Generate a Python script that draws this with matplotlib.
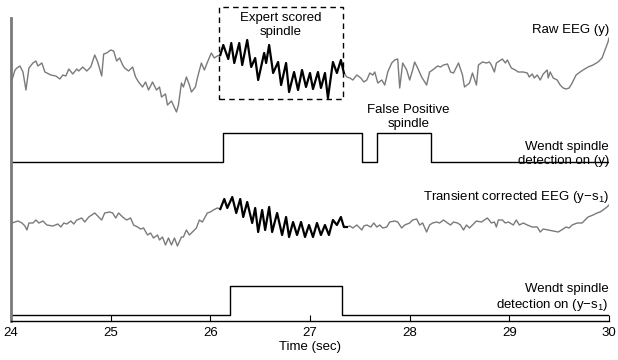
import matplotlib
matplotlib.use("Agg")
import matplotlib.pyplot as plt
from matplotlib.patches import Rectangle

plt.rcParams['font.family'] = ['Liberation Sans', 'DejaVu Sans']
plt.rcParams['mathtext.fontset'] = 'custom'
plt.rcParams['mathtext.rm'] = 'Liberation Sans'
plt.rcParams['mathtext.it'] = 'Liberation Sans'

# ---------------- data ----------------
raw_pre_t = [24.01, 24.04, 24.06, 24.09, 24.12, 24.15, 24.18, 24.22, 24.25, 24.27, 24.31, 24.34, 24.40,
             24.45, 24.49, 24.52, 24.55, 24.58, 24.62, 24.66, 24.68, 24.72, 24.76, 24.80, 24.84, 24.87,
             24.91, 24.93, 24.96, 25.00, 25.03, 25.06, 25.09, 25.12, 25.14, 25.18, 25.22, 25.25, 25.28,
             25.32, 25.35, 25.38, 25.42, 25.46, 25.49, 25.51, 25.55, 25.57, 25.61, 25.66, 25.68, 25.71,
             25.73, 25.76, 25.79, 25.81, 25.85, 25.87, 25.91, 25.94, 25.98, 26.01, 26.04, 26.07, 26.10]
raw_pre_v = [-5, 5, 7, 9, 3, -15, 7, 12, 14, 9, 12, 3, 0,
             -1, -4, 0, -1, 6, 1, 6, 4, 8, 4, 8, 20, 13,
             -1, 21, 22, 25, 24, 14, 17, 10, 7, 4, 8, -2, -7,
             -12, -7, -15, -7, -15, -12, -22, -19, -30, -26, -37, -30, -8,
             -12, -2, -10, -17, -12, -3, 12, 5, 15, 22, 17, 19, 20]

raw_sp_t = [26.10, 26.13, 26.18, 26.21, 26.24, 26.29, 26.32, 26.37, 26.41, 26.45, 26.48, 26.54, 26.56,
            26.59, 26.63, 26.68, 26.71, 26.76, 26.79, 26.84, 26.88, 26.92, 26.96, 27.00, 27.03, 27.08,
            27.11, 27.15, 27.18, 27.23, 27.27, 27.31, 27.34]
raw_sp_v = [20, 30, 16, 32, 12, 32, 10, 35, 8, 17, -5, 22, 12,
            30, 2, 13, -10, 12, -17, 3, -15, 5, -12, 2, -14, 3,
            -13, 2, -23, 13, 2, 15, 2]

raw_post_t = [27.34, 27.37, 27.40, 27.43, 27.47, 27.51, 27.54, 27.57, 27.60, 27.63, 27.65, 27.68, 27.72,
              27.75, 27.78, 27.82, 27.85, 27.88, 27.90, 27.93, 27.97, 28.00, 28.03, 28.05, 28.08, 28.12,
              28.17, 28.20, 28.23, 28.28, 28.31, 28.34, 28.38, 28.41, 28.44, 28.49, 28.53, 28.55, 28.60,
              28.63, 28.67, 28.69, 28.73, 28.77, 28.80, 28.82, 28.85, 28.87, 28.90, 28.93, 28.96, 28.98,
              29.02, 29.06, 29.09, 29.14, 29.18, 29.20, 29.23, 29.25, 29.28, 29.31, 29.34, 29.38, 29.39,
              29.41, 29.44, 29.48, 29.51, 29.54, 29.57, 29.60, 29.63, 29.67, 29.71, 29.74, 29.79, 29.84,
              29.89, 29.93, 29.96, 29.99, 30.00]
raw_post_v = [2, -2, -3, -5, 0, -3, -7, -5, 2, 0, 3, -8, -5,
              -10, 3, 12, 15, 16, -13, 12, 5, -5, 5, 13, 7, -2,
              -10, 3, 5, 9, 8, 10, 11, 3, 2, 12, 0, -12, -8,
              2, -10, 10, 13, 12, 13, 10, 3, 12, 14, 16, 12, 15,
              7, 5, 3, 3, 2, -2, 1, -3, 0, -5, 1, 5, -3,
              3, -3, -5, -10, -13, -14, -13, -8, 0, 3, 5, 8, 10,
              13, 17, 25, 33, 37]

cor_pre_t = [24.01, 24.04, 24.07, 24.11, 24.14, 24.16, 24.18, 24.22, 24.25, 24.28, 24.32, 24.36, 24.42,
             24.47, 24.50, 24.53, 24.56, 24.60, 24.63, 24.66, 24.71, 24.74, 24.78, 24.84, 24.87, 24.91,
             24.94, 24.99, 25.02, 25.05, 25.08, 25.12, 25.16, 25.20, 25.23, 25.27, 25.30, 25.33, 25.37,
             25.40, 25.43, 25.47, 25.49, 25.52, 25.55, 25.58, 25.61, 25.64, 25.67, 25.71, 25.73, 25.76,
             25.79, 25.82, 25.86, 25.89, 25.92, 25.97, 26.00, 26.03, 26.07, 26.10]
cor_pre_v = [-1, 0, 1, -1, -4, -8, -1, -1, 2, -1, 1, -3, -4,
             -2, -5, -1, -2, 1, -2, 2, 4, 0, 5, 9, 6, 2,
             9, 10, 9, 4, 9, 5, 2, 4, -3, -5, -7, -6, -13,
             -11, -16, -13, -18, -15, -23, -16, -23, -16, -24, -15, -15, -8,
             -13, -10, -6, 2, 0, 9, 10, 12, 14, 13]

cor_sp_t = [26.10, 26.14, 26.17, 26.22, 26.26, 26.30, 26.33, 26.37, 26.42, 26.45, 26.48, 26.52, 26.55,
            26.59, 26.62, 26.67, 26.72, 26.76, 26.79, 26.83, 26.87, 26.91, 26.95, 26.99, 27.03, 27.07,
            27.11, 27.15, 27.19, 27.23, 27.27, 27.31, 27.34, 27.37]
cor_sp_v = [13, 23, 14, 25, 9, 23, 5, 20, -1, 14, -10, 12, -8,
            15, -10, 9, -13, 5, -15, 0, -13, 0, -15, -3, -15, -1,
            -13, -3, -13, 2, -3, 5, -5, -5]

cor_post_t = [27.37, 27.40, 27.43, 27.47, 27.52, 27.54, 27.57, 27.61, 27.64, 27.67, 27.70, 27.73, 27.77,
              27.80, 27.85, 27.88, 27.92, 27.95, 28.00, 28.03, 28.07, 28.10, 28.13, 28.17, 28.20, 28.23,
              28.27, 28.30, 28.34, 28.38, 28.41, 28.44, 28.48, 28.51, 28.54, 28.57, 28.60, 28.63, 28.67,
              28.72, 28.75, 28.78, 28.82, 28.85, 28.87, 28.89, 28.93, 28.96, 28.99, 29.04, 29.07, 29.10,
              29.14, 29.18, 29.23, 29.28, 29.31, 29.34, 29.39, 29.44, 29.49, 29.54, 29.57, 29.60, 29.63,
              29.68, 29.73, 29.76, 29.79, 29.84, 29.88, 29.91, 29.94, 29.98, 30.00]
cor_post_v = [-5, -4, -6, -3, -8, -4, -3, -5, -1, -5, -3, -6, -5,
              0, 1, 0, -6, -3, -1, 2, 3, -3, -1, -10, -3, -1,
              0, -1, 2, -1, -3, 0, -1, -3, -8, -3, -6, -3, 1,
              0, 2, 4, -1, 0, -5, 2, 2, -1, 0, -3, 2, -3,
              -1, -3, -5, -5, -10, -7, -8, -9, -10, -7, -5, -6, -3,
              -1, -1, 2, 5, 7, 9, 10, 12, 15, 17]

det_y_edges = [24.0, 26.13, 27.52, 27.67, 28.21, 30.0]
det_y_state = [0, 1, 0, 1, 0]
det_ys_edges = [24.0, 26.20, 27.32, 30.0]
det_ys_state = [0, 1, 0]

expert_start, expert_end = 26.09, 27.33

xticks = [24, 25, 26, 27, 28, 29, 30]

# ---------------- layout ----------------
W, H = 618, 360
fig = plt.figure(figsize=(W / 100, H / 100), dpi=100)
ax = fig.add_axes([11 / W, 39 / H, 598 / W, 321 / H])
ax.set_xlim(24, 30)
ax.set_ylim(0, 321)

RAW_OFF = 246
COR_OFF = 99
DET1_BASE, DET1_H = 159, 29
DET2_BASE, DET2_H = 6, 29
GRAY = '#7a7a7a'
FS = 9.5

def step_xy(edges, states, base, h):
    xs, ys = [], []
    for i, s in enumerate(states):
        xs += [edges[i], edges[i + 1]]
        ys += [base + h * s, base + h * s]
    return xs, ys

ax.plot(raw_pre_t, [RAW_OFF + v for v in raw_pre_v], color=GRAY, lw=1.0)
ax.plot(raw_post_t, [RAW_OFF + v for v in raw_post_v], color=GRAY, lw=1.0)
ax.plot(raw_sp_t, [RAW_OFF + v for v in raw_sp_v], color='black', lw=1.6,
        solid_joinstyle='round')

ax.plot(cor_pre_t, [COR_OFF + v for v in cor_pre_v], color=GRAY, lw=1.0)
ax.plot(cor_post_t, [COR_OFF + v for v in cor_post_v], color=GRAY, lw=1.0)
ax.plot(cor_sp_t, [COR_OFF + v for v in cor_sp_v], color='black', lw=1.6,
        solid_joinstyle='round')

xs, ys = step_xy(det_y_edges, det_y_state, DET1_BASE, DET1_H)
ax.plot(xs, ys, color='black', lw=1.0)
xs, ys = step_xy(det_ys_edges, det_ys_state, DET2_BASE, DET2_H)
ax.plot(xs, ys, color='black', lw=1.0)

ax.add_patch(Rectangle((expert_start, 222), expert_end - expert_start, 92,
                       fill=False, ls=(0, (4, 3)), lw=1.0, ec='black', clip_on=False))

ax.text(26.71, 296, 'Expert scored\nspindle', ha='center', va='center', fontsize=FS, linespacing=1.25)
ax.text(30.0, 291, 'Raw EEG (y)', ha='right', va='center', fontsize=FS)
ax.text(27.99, 204, 'False Positive\nspindle', ha='center', va='center', fontsize=FS, linespacing=1.25)
ax.text(30.0, 167, 'Wendt spindle\ndetection on (y)', ha='right', va='center', fontsize=FS,
        multialignment='right', linespacing=1.3)
ax.text(30.0, 124, 'Transient corrected EEG (y\u2212s$_\\mathregular{1}$)', ha='right', va='center', fontsize=FS)
ax.text(30.0, 23, 'Wendt spindle\ndetection on (y\u2212s$_\\mathregular{1}$)', ha='right', va='center',
        fontsize=FS, multialignment='right', linespacing=1.2)

for s in ['top', 'right']:
    ax.spines[s].set_visible(False)
ax.spines['left'].set_bounds(0, 303)
ax.spines['left'].set_color(GRAY)
ax.spines['left'].set_linewidth(2)
ax.spines['bottom'].set_linewidth(1.0)
ax.set_yticks([])
ax.set_xticks(xticks)
ax.set_xticklabels([str(t) for t in xticks])
ax.tick_params(axis='x', direction='in', length=4.3, width=0.8, labelsize=FS, pad=4)
ax.set_xlabel('Time (sec)', fontsize=FS, labelpad=2)

fig.savefig('out.png', dpi=100)
